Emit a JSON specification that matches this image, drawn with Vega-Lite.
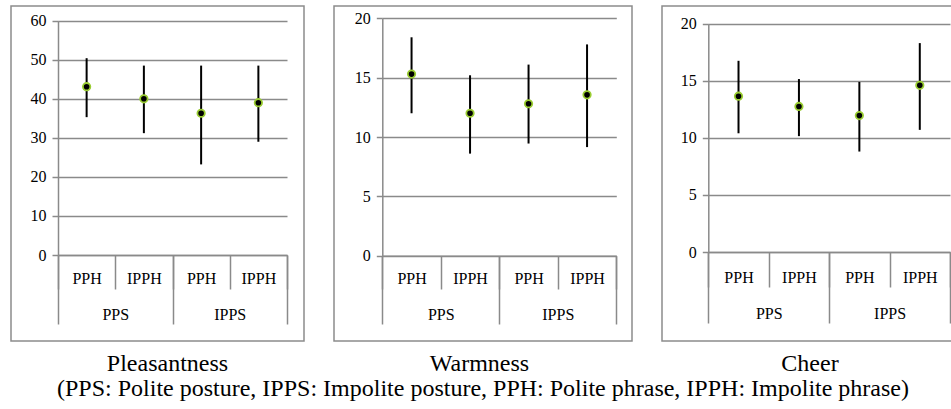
{
  "$schema": "https://vega.github.io/schema/vega-lite/v6.json",
  "padding": {"left": 10, "top": 5, "right": 0, "bottom": 0},
  "config": {
    "font": "Liberation Serif",
    "view": {"stroke": "#8c8c8c", "strokeWidth": 1.5},
    "axis": {
      "gridColor": "#8a8a8a", "gridWidth": 1.5, "gridOpacity": 1,
      "domainColor": "#8a8a8a", "domainWidth": 1.5,
      "tickColor": "#8a8a8a", "tickWidth": 1.5,
      "labelFont": "Liberation Serif", "labelColor": "#000000",
      "title": null
    },
    "style": {"guide-label": {"font": "Liberation Serif", "fill": "#000000"}},
    "title": {"font": "Liberation Serif", "fontSize": 24, "fontWeight": "normal", "color": "#000000"},
    "concat": {"spacing": 28}
  },
  "datasets": {
    "d": [
      {"measure": "Pleasantness", "group": "PPS", "phrase": "PPH", "cond": "PPS PPH", "mean": 43.1, "lo": 35.3, "hi": 50.4},
      {"measure": "Pleasantness", "group": "PPS", "phrase": "IPPH", "cond": "PPS IPPH", "mean": 40.0, "lo": 31.2, "hi": 48.5},
      {"measure": "Pleasantness", "group": "IPPS", "phrase": "PPH", "cond": "IPPS PPH", "mean": 36.3, "lo": 23.2, "hi": 48.5},
      {"measure": "Pleasantness", "group": "IPPS", "phrase": "IPPH", "cond": "IPPS IPPH", "mean": 39.0, "lo": 29.0, "hi": 48.5},
      {"measure": "Warmness", "group": "PPS", "phrase": "PPH", "cond": "PPS PPH", "mean": 15.3, "lo": 12.0, "hi": 18.4},
      {"measure": "Warmness", "group": "PPS", "phrase": "IPPH", "cond": "PPS IPPH", "mean": 12.0, "lo": 8.6, "hi": 15.2},
      {"measure": "Warmness", "group": "IPPS", "phrase": "PPH", "cond": "IPPS PPH", "mean": 12.8, "lo": 9.45, "hi": 16.1},
      {"measure": "Warmness", "group": "IPPS", "phrase": "IPPH", "cond": "IPPS IPPH", "mean": 13.55, "lo": 9.15, "hi": 17.8},
      {"measure": "Cheer", "group": "PPS", "phrase": "PPH", "cond": "PPS PPH", "mean": 13.65, "lo": 10.4, "hi": 16.75},
      {"measure": "Cheer", "group": "PPS", "phrase": "IPPH", "cond": "PPS IPPH", "mean": 12.75, "lo": 10.15, "hi": 15.15},
      {"measure": "Cheer", "group": "IPPS", "phrase": "PPH", "cond": "IPPS PPH", "mean": 11.95, "lo": 8.8, "hi": 14.9},
      {"measure": "Cheer", "group": "IPPS", "phrase": "IPPH", "cond": "IPPS IPPH", "mean": 14.6, "lo": 10.7, "hi": 18.3}
    ]
  },
  "title": {"text": "(PPS: Polite posture, IPPS: Impolite posture, PPH: Polite phrase, IPPH: Impolite phrase)", "orient": "bottom", "anchor": "middle", "offset": 0},
  "hconcat": [
    {
      "width": 293, "height": 335,
      "title": {"text": "Pleasantness", "orient": "bottom", "offset": 11, "dx": 10},
      "data": {"name": "d"},
      "transform": [{"filter": "datum.measure === 'Pleasantness'"}],
      "layer": [
        {"layer": [
          {"mark": {"type": "rule", "color": "black", "strokeWidth": 2},
           "encoding": {
             "x": {"field": "cond", "type": "nominal",
                   "scale": {"domain": ["PPS PPH", "PPS IPPH", "IPPS PPH", "IPPS IPPH"], "range": [47, 276], "paddingInner": 0, "paddingOuter": 0},
                   "axis": {"orient": "bottom", "offset": -86, "tickBand": "extent", "tickSize": 34, "labelPadding": -11, "labelBaseline": "middle", "labelFont": "Liberation Serif", "labelFontSize": 16, "labelAngle": 0, "labelExpr": "split(datum.label, ' ')[1]", "domain": true, "grid": false}},
             "y": {"field": "lo", "type": "quantitative",
                   "scale": {"domain": [0, 60], "range": [249, 14.7], "nice": false},
                   "axis": {"values": [0, 10, 20, 30, 40, 50, 60], "offset": -47, "tickSize": 6, "labelPadding": 6, "labelFont": "Liberation Serif", "labelFontSize": 16, "grid": true}},
             "y2": {"field": "hi"}
           }},
          {"mark": {"type": "point", "filled": true, "fill": "black", "stroke": "#9acd32", "strokeWidth": 1.8, "size": 55, "opacity": 1},
           "encoding": {
             "x": {"field": "cond", "type": "nominal"},
             "y": {"field": "mean", "type": "quantitative"}
           }}
        ]},
        {"mark": {"type": "point", "opacity": 0},
         "encoding": {
           "x": {"field": "group", "type": "nominal",
                 "scale": {"domain": ["PPS", "IPPS"], "range": [47, 276], "paddingInner": 0, "paddingOuter": 0},
                 "axis": {"orient": "bottom", "offset": -86, "tickBand": "extent", "tickSize": 69, "labelPadding": -10, "labelBaseline": "middle", "labelFont": "Liberation Serif", "labelFontSize": 16, "labelAngle": 0, "domain": false, "grid": false}}
         }}
      ],
      "resolve": {"scale": {"x": "independent"}, "axis": {"x": "independent"}}
    },
    {
      "width": 298, "height": 335,
      "title": {"text": "Warmness", "orient": "bottom", "offset": 11, "dx": -3.5},
      "data": {"name": "d"},
      "transform": [{"filter": "datum.measure === 'Warmness'"}],
      "layer": [
        {"layer": [
          {"mark": {"type": "rule", "color": "black", "strokeWidth": 2},
           "encoding": {
             "x": {"field": "cond", "type": "nominal",
                   "scale": {"domain": ["PPS PPH", "PPS IPPH", "IPPS PPH", "IPPS IPPH"], "range": [48.3, 282.3], "paddingInner": 0, "paddingOuter": 0},
                   "axis": {"orient": "bottom", "offset": -85.3, "tickBand": "extent", "tickSize": 33.3, "labelPadding": -11, "labelBaseline": "middle", "labelFont": "Liberation Serif", "labelFontSize": 16, "labelAngle": 0, "labelExpr": "split(datum.label, ' ')[1]", "domain": true, "grid": false}},
             "y": {"field": "lo", "type": "quantitative",
                   "scale": {"domain": [0, 20], "range": [249.7, 12.3], "nice": false},
                   "axis": {"values": [0, 5, 10, 15, 20], "offset": -48.3, "tickSize": 6, "labelPadding": 6, "labelFont": "Liberation Serif", "labelFontSize": 16, "grid": true}},
             "y2": {"field": "hi"}
           }},
          {"mark": {"type": "point", "filled": true, "fill": "black", "stroke": "#9acd32", "strokeWidth": 1.8, "size": 55, "opacity": 1},
           "encoding": {
             "x": {"field": "cond", "type": "nominal"},
             "y": {"field": "mean", "type": "quantitative"}
           }}
        ]},
        {"mark": {"type": "point", "opacity": 0},
         "encoding": {
           "x": {"field": "group", "type": "nominal",
                 "scale": {"domain": ["PPS", "IPPS"], "range": [48.3, 282.3], "paddingInner": 0, "paddingOuter": 0},
                 "axis": {"orient": "bottom", "offset": -85.3, "tickBand": "extent", "tickSize": 68.3, "labelPadding": -10, "labelBaseline": "middle", "labelFont": "Liberation Serif", "labelFontSize": 16, "labelAngle": 0, "domain": false, "grid": false}}
         }}
      ],
      "resolve": {"scale": {"x": "independent"}, "axis": {"x": "independent"}}
    },
    {
      "width": 293, "height": 335,
      "title": {"text": "Cheer", "orient": "bottom", "offset": 11, "dx": 1.5},
      "data": {"name": "d"},
      "transform": [{"filter": "datum.measure === 'Cheer'"}],
      "layer": [
        {"layer": [
          {"mark": {"type": "rule", "color": "black", "strokeWidth": 2},
           "encoding": {
             "x": {"field": "cond", "type": "nominal",
                   "scale": {"domain": ["PPS PPH", "PPS IPPH", "IPPS PPH", "IPPS IPPH"], "range": [46.3, 288], "paddingInner": 0, "paddingOuter": 0},
                   "axis": {"orient": "bottom", "offset": -89, "tickBand": "extent", "tickSize": 35, "labelPadding": -10, "labelBaseline": "middle", "labelFont": "Liberation Serif", "labelFontSize": 16, "labelAngle": 0, "labelExpr": "split(datum.label, ' ')[1]", "domain": true, "grid": false}},
             "y": {"field": "lo", "type": "quantitative",
                   "scale": {"domain": [0, 20], "range": [246, 17.7], "nice": false},
                   "axis": {"values": [0, 5, 10, 15, 20], "offset": -46.3, "tickSize": 6, "labelPadding": 6, "labelFont": "Liberation Serif", "labelFontSize": 16, "grid": true}},
             "y2": {"field": "hi"}
           }},
          {"mark": {"type": "point", "filled": true, "fill": "black", "stroke": "#9acd32", "strokeWidth": 1.8, "size": 55, "opacity": 1},
           "encoding": {
             "x": {"field": "cond", "type": "nominal"},
             "y": {"field": "mean", "type": "quantitative"}
           }}
        ]},
        {"mark": {"type": "point", "opacity": 0},
         "encoding": {
           "x": {"field": "group", "type": "nominal",
                 "scale": {"domain": ["PPS", "IPPS"], "range": [46.3, 288], "paddingInner": 0, "paddingOuter": 0},
                 "axis": {"orient": "bottom", "offset": -89, "tickBand": "extent", "tickSize": 71, "labelPadding": -10, "labelBaseline": "middle", "labelFont": "Liberation Serif", "labelFontSize": 16, "labelAngle": 0, "domain": false, "grid": false}}
         }}
      ],
      "resolve": {"scale": {"x": "independent"}, "axis": {"x": "independent"}}
    }
  ]
}
